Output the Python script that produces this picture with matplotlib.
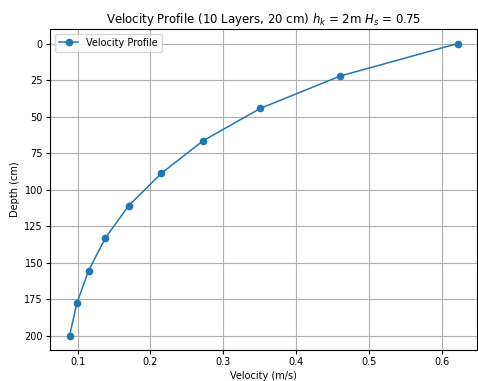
import numpy as np
import matplotlib
matplotlib.use("Agg")
import matplotlib.pyplot as plt

depth = [0.0, 22.2, 44.4, 66.7, 88.9, 111.1, 133.3, 155.6, 177.8, 200.0]
velocity = [0.622, 0.461, 0.351, 0.272, 0.215, 0.170, 0.138, 0.115, 0.099, 0.089]

fig, ax = plt.subplots(figsize=(4.78, 3.81), dpi=100)
fig.subplots_adjust(left=0.105, right=0.998, top=0.924, bottom=0.081)
ax.plot(velocity, depth, marker='o', color='#1f77b4', markersize=4.5, linewidth=1.1, label='Velocity Profile')
ax.invert_yaxis()
ax.set_yticks([0, 25, 50, 75, 100, 125, 150, 175, 200])
ax.grid(True, color='#b0b0b0', linewidth=0.8)
ax.tick_params(labelsize=7, length=2.6, pad=2.6)
ax.set_xlabel('Velocity (m/s)', fontsize=7, labelpad=2.5)
ax.set_ylabel('Depth (cm)', fontsize=7, labelpad=3)
ax.set_title('Velocity Profile (10 Layers, 20 cm) $h_k$ = 2m $H_s$ = 0.75', fontsize=8.5, pad=4.5)
ax.legend(loc='upper left', fontsize=7)
fig.savefig('out.png', dpi=100)
